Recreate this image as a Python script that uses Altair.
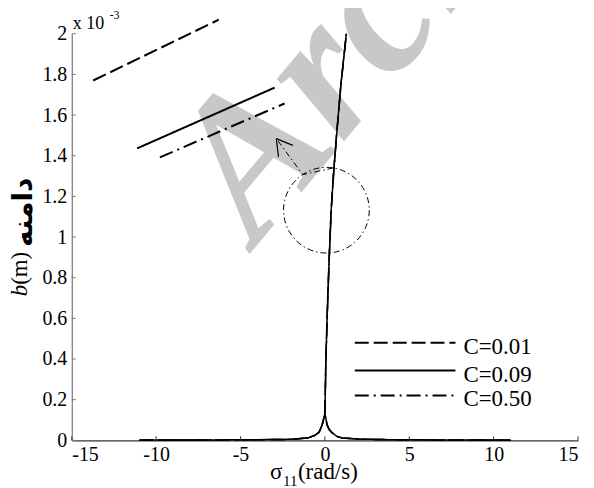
import altair as alt
import pandas as pd

# ---------------- data (y in units of 1e-3 m) ----------------
series_names = ["C=0.01", "C=0.09", "C=0.50"]
series_dash = [[14, 5], [1, 0], [14, 5, 2, 5]]

# lower branch (shared sweep), per series
lower_x = [-11, -7, -4, -2, -1, -0.6, -0.35, -0.16, -0.05, 0.0, 0.05, 0.12, 0.25, 0.41, 0.7, 1.0, 2.0, 4, 7, 11]
lower_y = {
    "C=0.01": [0.001, 0.002, 0.003, 0.005, 0.012, 0.025, 0.04, 0.08, 0.115, 0.13, 0.115, 0.08, 0.055, 0.04, 0.02, 0.012, 0.006, 0.003, 0.002, 0.001],
    "C=0.09": [0.001, 0.002, 0.003, 0.005, 0.012, 0.024, 0.039, 0.078, 0.112, 0.128, 0.112, 0.078, 0.054, 0.039, 0.02, 0.012, 0.006, 0.003, 0.002, 0.001],
    "C=0.50": [0.001, 0.002, 0.003, 0.005, 0.011, 0.023, 0.037, 0.075, 0.108, 0.124, 0.108, 0.075, 0.052, 0.037, 0.019, 0.011, 0.006, 0.003, 0.002, 0.001],
}
# upper (steep) branch
upper_y = [0.13, 0.4, 0.69, 0.93, 1.13, 1.32, 1.51, 1.75, 2.0]
upper_x = {
    "C=0.01": [0.0, 0.055, 0.16, 0.265, 0.365, 0.515, 0.695, 0.945, 1.265],
    "C=0.09": [0.0, 0.06, 0.165, 0.27, 0.37, 0.52, 0.70, 0.95, 1.27],
    "C=0.50": [0.0, 0.065, 0.17, 0.275, 0.375, 0.525, 0.705, 0.955, 1.275],
}

# zoomed inset segments (drawn in upper left)
inset_x = {"C=0.01": [-13.73, -6.29], "C=0.09": [-11.13, -2.98], "C=0.50": [-9.78, -2.39]}
inset_y = {"C=0.01": [1.770, 2.069], "C=0.09": [1.436, 1.735], "C=0.50": [1.392, 1.657]}

# circle marking the zoomed region
circle_x = [0.09]
circle_y = [1.132]

# arrow from circle to inset
arrow_x = [0.50, -1.31, -2.88]
arrow_y = [1.340, 1.307, 1.484]
wing_x = [[-2.88, -1.90], [-2.88, -2.75]]
wing_y = [[1.484, 1.451], [1.484, 1.394]]

x_ticks = [-15, -10, -5, 0, 5, 10, 15]
y_ticks = [0, 0.2, 0.4, 0.6, 0.8, 1, 1.2, 1.4, 1.6, 1.8, 2]

# ---------------- chart ----------------
W, H = 508, 408
SERIF = "Times New Roman, Liberation Serif, Tinos, DejaVu Serif, serif"
ARABIC = "DejaVu Sans, Noto Sans, sans-serif"

xs = alt.Scale(domain=[-15, 15], nice=False, zero=False)
ys = alt.Scale(domain=[0, 2], nice=False, zero=False)
xaxis = alt.Axis(values=x_ticks, labelExpr="'' + datum.value", title=None, grid=False,
                 tickSize=0, labelPadding=4, labelFont=SERIF, labelFontSize=20,
                 labelColor="black", domainColor="#333333", domainWidth=1.2)
yaxis = alt.Axis(values=y_ticks, labelExpr="'' + datum.value", title=None, grid=False,
                 tickSize=0, labelPadding=5, labelFont=SERIF, labelFontSize=20,
                 labelColor="black", domainColor="#777777", domainWidth=1.2,
                 labelBaseline="middle")


def X(f="x"):
    return alt.X(f + ":Q", scale=xs, axis=xaxis)


def Y(f="y"):
    return alt.Y(f + ":Q", scale=ys, axis=yaxis)


layers = []

# watermark
layers.append(
    alt.Chart(pd.DataFrame({"a": [0]})).mark_text(
        text="Archive of SID", font=SERIF, fontSize=200, fontStyle="italic", fontWeight="bold",
        color="#c8c8c8", angle=310, align="left", baseline="alphabetic"
    ).encode(x=alt.value(185), y=alt.value(213))
)

# main curves
for name, dash in zip(series_names, series_dash):
    rows = []
    for i, (xv, yv) in enumerate(zip(lower_x, lower_y[name])):
        rows.append({"x": xv, "y": yv, "b": "low", "i": i})
    for i, (xv, yv) in enumerate(zip(upper_x[name], upper_y)):
        rows.append({"x": xv, "y": yv, "b": "up", "i": i})
    layers.append(
        alt.Chart(pd.DataFrame(rows)).mark_line(color="black", strokeWidth=1.5, strokeDash=dash)
        .encode(x=X(), y=Y(), detail="b:N", order="i:Q")
    )

# inset segments
for name, dash in zip(series_names, series_dash):
    df = pd.DataFrame({"x": inset_x[name], "y": inset_y[name], "i": [0, 1]})
    layers.append(
        alt.Chart(df).mark_line(color="black", strokeWidth=2, strokeDash=dash)
        .encode(x=X(), y=Y(), order="i:Q")
    )

# circle
layers.append(
    alt.Chart(pd.DataFrame({"x": circle_x, "y": circle_y})).mark_point(
        shape="circle", size=7396, filled=False, color="black", strokeWidth=1,
        strokeDash=[6, 3, 1.5, 3], opacity=1
    ).encode(x=X(), y=Y())
)

# arrow
layers.append(
    alt.Chart(pd.DataFrame({"x": arrow_x, "y": arrow_y, "i": [0, 1, 2]})).mark_line(
        color="black", strokeWidth=1, strokeDash=[6, 3, 1.5, 3]
    ).encode(x=X(), y=Y(), order="i:Q")
)
for wx, wy in zip(wing_x, wing_y):
    layers.append(
        alt.Chart(pd.DataFrame({"x": wx, "y": wy, "i": [0, 1]})).mark_line(
            color="black", strokeWidth=1.2
        ).encode(x=X(), y=Y(), order="i:Q")
    )

# axis ticks (inward)
layers.append(
    alt.Chart(pd.DataFrame({"x": x_ticks})).mark_rule(color="#333333", strokeWidth=1)
    .encode(x=X(), y=alt.value(H), y2=alt.value(H - 4))
)
layers.append(
    alt.Chart(pd.DataFrame({"y": y_ticks})).mark_rule(color="#777777", strokeWidth=1)
    .encode(y=Y(), x=alt.value(0), x2=alt.value(4))
)

# legend
leg_y = [310, 338, 363]
for name, dash, ly in zip(series_names, series_dash, leg_y):
    layers.append(
        alt.Chart(pd.DataFrame({"a": [0]})).mark_rule(color="black", strokeWidth=2, strokeDash=dash)
        .encode(x=alt.value(284), x2=alt.value(385), y=alt.value(ly))
    )
    layers.append(
        alt.Chart(pd.DataFrame({"a": [0]})).mark_text(
            text=name, font=SERIF, fontSize=23, align="left", baseline="middle", color="black"
        ).encode(x=alt.value(393), y=alt.value(ly + 4))
    )


def txt(t, x, y, size, font=SERIF, **kw):
    return alt.Chart(pd.DataFrame({"a": [0]})).mark_text(
        text=t, font=font, fontSize=size, color="black", **kw
    ).encode(x=alt.value(x), y=alt.value(y))


# exponent label
layers.append(txt("x 10", 1, -5, 18, align="left", baseline="alphabetic"))
layers.append(txt("-3", 38, -15, 12, align="left", baseline="alphabetic"))

# x title
layers.append(txt("σ", 199, 447, 23, align="left", baseline="alphabetic"))
layers.append(txt("11", 212, 454, 15, align="left", baseline="alphabetic"))
layers.append(txt("(rad/s)", 227, 447, 23, align="left", baseline="alphabetic"))

# y title
layers.append(txt("b", -45, 252, 23, align="right", baseline="alphabetic", angle=270, fontStyle="italic"))
layers.append(txt("(m)", -45, 252, 23, align="left", baseline="alphabetic", angle=270))
layers.append(txt("دامنه", -48, 214, 28, font=ARABIC, align="left", baseline="middle", angle=270, fontWeight="bold"))

chart = alt.layer(*layers).properties(
    width=W, height=H,
    autosize=alt.AutoSizeParams(type="none"),
    padding={"left": 64, "top": 25, "right": 8, "bottom": 47},
).configure_view(stroke=None)

chart.save("out.html", embed_options={"renderer": "svg", "actions": False})
